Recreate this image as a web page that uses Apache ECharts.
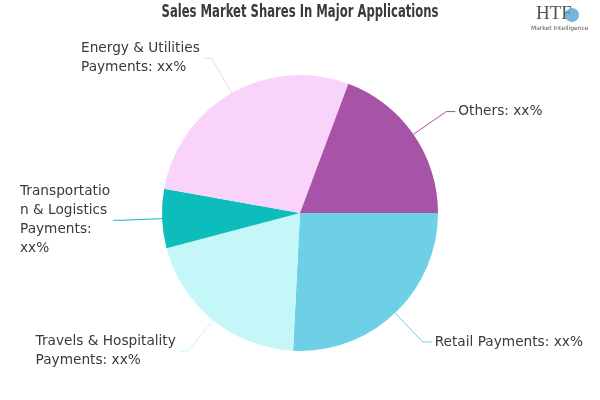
<!DOCTYPE html>
<html><head><meta charset="utf-8">
<script src="https://cdn.jsdelivr.net/npm/echarts@6/dist/echarts.min.js"></script>
<style>html,body{margin:0;padding:0;background:#fff}#c{width:600px;height:400px}</style>
</head><body><div id="c"></div>
<script>
const categories = ["Retail Payments", "Travels & Hospitality Payments", "Transportation & Logistics Payments", "Energy & Utilities Payments", "Others"];
const values = [25.8, 20.1, 6.9, 27.9, 19.3];
const valueLabels = ["xx%", "xx%", "xx%", "xx%", "xx%"];
// label text as wrapped in the reference
const labelLines = [
  ["Retail Payments: xx%"],
  ["Travels & Hospitality", "Payments: xx%"],
  ["Transportatio", "n & Logistics", "Payments:", "xx%"],
  ["Energy & Utilities", "Payments: xx%"],
  ["Others: xx%"]
];
const colors = ["#6dd0e7", "#c5f7f9", "#0dbdbb", "#f9d3f9", "#a653a8"];

const chart = echarts.init(document.getElementById('c'), null, {renderer: 'canvas'});
chart.setOption({
  animation: false,
  graphic: [
    {type: 'text', x: 300, y: 13, scaleX: 0.76, originX: 0, style: {text: 'Sales Market Shares In Major Applications', font: 'bold 17px "DejaVu Sans Condensed","DejaVu Sans",sans-serif', fill: '#3a3a3a', align: 'center', verticalAlign: 'middle'}},
    {type: 'text', left: 536, top: 5, style: {text: 'HTF', font: '19px "Liberation Serif",serif', fill: '#555'}},
    {type: 'circle', shape: {cx: 572, cy: 15, r: 7}, style: {fill: '#4a9ccc', opacity: 0.75}},
    {type: 'text', left: 531, top: 25, style: {text: 'Market Intelligence', font: '6px "DejaVu Sans",sans-serif', fill: '#555'}}
  ],
  series: [{
    type: 'pie',
    center: [300, 213],
    radius: 138,
    startAngle: 0,
    clockwise: true,
    avoidLabelOverlap: false,
    label: {
      show: true,
      distanceToLabelLine: 3,
      formatter: p => labelLines[p.dataIndex].map(l => '{t|' + l + '}').join('\n'),
      rich: {
        t: {fontFamily: '"DejaVu Sans",Verdana,sans-serif', fontSize: 13.7, color: '#3a3a3a', lineHeight: 19, align: 'left'}
      }
    },
    labelLine: {length: 40, length2: 9, lineStyle: {width: 1}},
    data: categories.map((n, i) => ({
      name: n, value: values[i],
      itemStyle: {color: colors[i]}
    }))
  }]
});
</script></body></html>
